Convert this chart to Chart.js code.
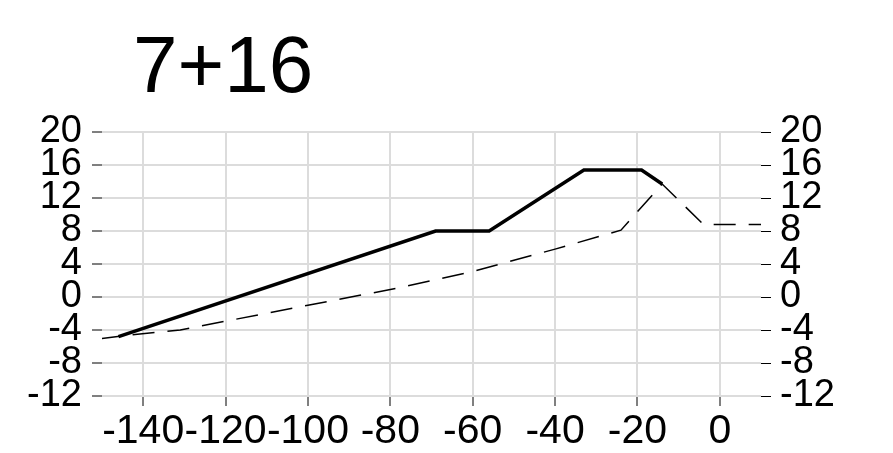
<!DOCTYPE html>
<html>
<head>
<meta charset="utf-8">
<script src="https://cdn.jsdelivr.net/npm/chart.js@4/dist/chart.umd.min.js"></script>
<style>
  body { margin: 0; background: #fff; }
  #wrap { position: relative; width: 893px; height: 453px; }
  #title {
    position: absolute; left: 133px; top: 25px;
    font: 80px 'Liberation Sans', Arial, sans-serif; line-height: 80px; color: #000;
  }
  canvas { position: absolute; left: 0; top: 0; }
</style>
</head>
<body>
<div id="wrap">
  <canvas id="chart" width="893" height="453"></canvas>
  <div id="title">7+16</div>
</div>
<script>
const xTicks = [-140, -120, -100, -80, -60, -40, -20, 0];
const yTicks = [-12, -8, -4, 0, 4, 8, 12, 16, 20];

// thick solid line
const solidX = [-146, -69, -56, -33, -19, -14];
const solidY = [-4.8, 8, 8, 15.4, 15.4, 13.7];

// thin dashed line
const dashX = [-151, -145, -131, -100, -78, -60, -40, -24, -14, -4, 10];
const dashY = [-5.1, -4.7, -4.0, -1.0, 1.1, 3.1, 5.8, 8.1, 13.7, 8.8, 8.8];

const family = "'Liberation Sans', Arial, sans-serif";
const xFont = { size: 41, family: family };
const yFont = { size: 38, family: family };
const gridColor = '#dcdcdc';

function toPoints(xs, ys) {
  return xs.map((x, i) => ({ x: x, y: ys[i] }));
}

function fixedTicks(values) {
  return scale => { scale.ticks = values.map(v => ({ value: v })); };
}

new Chart(document.getElementById('chart'), {
  type: 'line',
  data: {
    datasets: [
      {
        data: toPoints(solidX, solidY),
        borderColor: '#000',
        borderWidth: 3.5,
        pointRadius: 0,
        tension: 0
      },
      {
        data: toPoints(dashX, dashY),
        borderColor: '#000',
        borderWidth: 1.5,
        borderDash: [22, 13],
        pointRadius: 0,
        tension: 0
      }
    ]
  },
  options: {
    responsive: false,
    animation: false,
    layout: { padding: { top: 132, left: 0, right: 0, bottom: 0 } },
    scales: {
      x: {
        type: 'linear',
        min: -150,
        max: 10,
        afterBuildTicks: fixedTicks(xTicks),
        afterFit: s => { s.height = 57; },
        ticks: { color: '#000', font: xFont, padding: 1, autoSkip: false, maxRotation: 0 },
        grid: { color: gridColor, lineWidth: 2, tickLength: 10, tickColor: '#000', tickWidth: 1 },
        border: { display: false }
      },
      y: {
        position: 'left',
        min: -12,
        max: 20,
        afterBuildTicks: fixedTicks(yTicks),
        afterFit: s => { s.width = 102; },
        ticks: { color: '#000', font: yFont, padding: 10, autoSkip: false },
        grid: { color: gridColor, lineWidth: 2, tickLength: 10, tickColor: '#000', tickWidth: 1 },
        border: { display: false }
      },
      y2: {
        position: 'right',
        min: -12,
        max: 20,
        afterBuildTicks: fixedTicks(yTicks),
        afterFit: s => { s.width = 132; },
        ticks: { color: '#000', font: yFont, padding: 9, autoSkip: false },
        grid: { drawOnChartArea: false, tickLength: 10, tickColor: '#000', tickWidth: 1 },
        border: { display: false }
      }
    },
    plugins: {
      legend: { display: false },
      tooltip: { enabled: false }
    }
  }
});
</script>
</body>
</html>
